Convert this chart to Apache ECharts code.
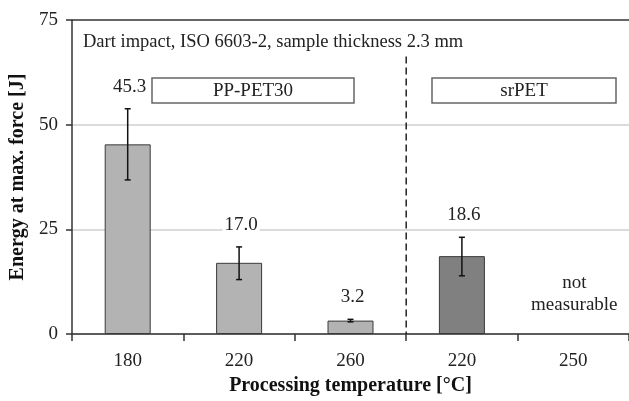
<!DOCTYPE html>
<html><head><meta charset="utf-8">
<script src="https://cdn.jsdelivr.net/npm/echarts@6/dist/echarts.min.js"></script>
<style>html,body{margin:0;padding:0;background:#fff}#c{width:629px;height:401px}</style>
</head><body><div id="c"></div>
<script>
const categories = ['180', '220', '260', '220', '250'];
const groups = ['PP-PET30', 'PP-PET30', 'PP-PET30', 'srPET', 'srPET'];
const values = [45.3, 17.0, 3.2, 18.6, null];
const errLow = [36.8, 13.0, 2.9, 13.9, null];
const errHigh = [53.8, 20.8, 3.5, 23.1, null];
const valueLabels = ['45.3', '17.0', '3.2', '18.6', ''];
const notes = ['', '', '', '', 'not\nmeasurable'];
const yTicks = [0, 25, 50, 75];

const FONT = '"Liberation Serif", "DejaVu Serif", serif';
const FS = 19;
const groupColor = {'PP-PET30': '#b3b3b3', 'srPET': '#808080'};

const chart = echarts.init(document.getElementById('c'), null, {renderer: 'canvas'});
chart.setOption({
  animation: false,
  grid: {left: 72, top: 20, width: 565, height: 318},
  xAxis: {
    type: 'category', data: categories,
    name: 'Processing temperature [°C]', nameLocation: 'middle', nameGap: 42,
    nameTextStyle: {fontFamily: FONT, fontSize: 20, fontWeight: 'bold', color: '#111'},
    axisLine: {lineStyle: {color: '#333', width: 1.5}},
    axisTick: {show: true, length: 7, lineStyle: {color: '#333', width: 1.5}},
    axisLabel: {fontFamily: FONT, fontSize: FS, color: '#222', margin: 18}
  },
  yAxis: {
    type: 'value', min: yTicks[0], max: yTicks[yTicks.length - 1], interval: 25,
    name: 'Energy at max. force [J]', nameLocation: 'middle', nameGap: 40,
    nameTextStyle: {fontFamily: FONT, fontSize: 20, fontWeight: 'bold', color: '#111'},
    axisLine: {show: true, lineStyle: {color: '#333', width: 1.5}},
    axisTick: {show: true, length: 6, lineStyle: {color: '#333', width: 1.5}},
    axisLabel: {fontFamily: FONT, fontSize: FS, color: '#222', margin: 14},
    splitLine: {show: true, lineStyle: {color: ['#cfcfcf', '#cfcfcf', '#cfcfcf', '#333'], width: 1.5}}
  },
  series: [
    {
      type: 'bar', barWidth: 46,
      data: values.map((v, i) => ({
        value: v == null ? '-' : v,
        itemStyle: {color: groupColor[groups[i]], borderColor: '#3a3a3a', borderWidth: 1}
      })),
      z: 2
    },
    {
      type: 'custom', z: 5,
      data: categories.map((c, i) => [i]),
      renderItem: function (params, api) {
        const i = api.value(0);
        const children = [];
        const base = api.coord([i, 0]);
        if (errHigh[i] != null) {
          const hi = api.coord([i, errHigh[i]]);
          const lo = api.coord([i, errLow[i]]);
          const x = hi[0];
          const st = {stroke: '#111', lineWidth: 1.5};
          children.push({type: 'line', shape: {x1: x, y1: hi[1], x2: x, y2: lo[1]}, style: st});
          children.push({type: 'line', shape: {x1: x - 3, y1: hi[1], x2: x + 3, y2: hi[1]}, style: st});
          children.push({type: 'line', shape: {x1: x - 3, y1: lo[1], x2: x + 3, y2: lo[1]}, style: st});
          children.push({type: 'text', style: {
            x: x + 2, y: hi[1] - 22, text: valueLabels[i], textAlign: 'center', textVerticalAlign: 'middle',
            font: FS + 'px ' + FONT, fill: '#222', backgroundColor: '#fff', padding: [0, 2]
          }});
        }
        if (notes[i]) {
          children.push({type: 'text', style: {
            x: base[0] + 1, y: base[1] - 40, text: notes[i], textAlign: 'center', textVerticalAlign: 'middle',
            font: FS + 'px ' + FONT, fill: '#222', lineHeight: 22
          }});
        }
        if (i > 0 && groups[i] !== groups[i - 1]) {
          const prev = api.coord([i - 1, 0]);
          const xd = (prev[0] + base[0]) / 2;
          const top = api.coord([i, 66.3]);
          children.push({type: 'line', shape: {x1: xd, y1: top[1], x2: xd, y2: base[1]},
            style: {stroke: '#222', lineWidth: 1.5, lineDash: [7, 4]}});
        }
        return {type: 'group', children: children};
      }
    }
  ],
  graphic: [
    {type: 'text', left: 83, top: 33, z: 10,
      style: {text: 'Dart impact, ISO 6603-2, sample thickness 2.3 mm', font: '18.5px ' + FONT, fill: '#222'}},
    {type: 'rect', shape: {x: 152, y: 78, width: 202, height: 25}, z: 10,
      style: {fill: '#fff', stroke: '#666', lineWidth: 1.5}},
    {type: 'text', x: 253, y: 91, z: 11,
      style: {text: 'PP-PET30', font: FS + 'px ' + FONT, fill: '#222', textAlign: 'center', textVerticalAlign: 'middle'}},
    {type: 'rect', shape: {x: 432, y: 78, width: 184, height: 25}, z: 10,
      style: {fill: '#fff', stroke: '#666', lineWidth: 1.5}},
    {type: 'text', x: 524, y: 91, z: 11,
      style: {text: 'srPET', font: FS + 'px ' + FONT, fill: '#222', textAlign: 'center', textVerticalAlign: 'middle'}}
  ]
});
</script></body></html>
